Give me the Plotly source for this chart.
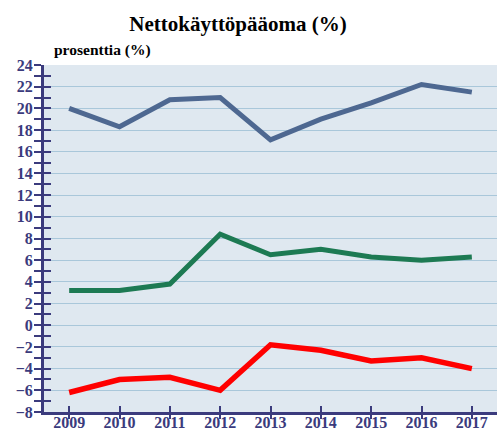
import plotly.graph_objects as go

years = ["2009", "2010", "2011", "2012", "2013", "2014", "2015", "2016", "2017"]
blue_vals = [20.0, 18.3, 20.8, 21.0, 17.1, 19.0, 20.5, 22.2, 21.5]
green_vals = [3.2, 3.2, 3.8, 8.4, 6.5, 7.0, 6.3, 6.0, 6.3]
red_vals = [-6.2, -5.0, -4.8, -6.0, -1.8, -2.3, -3.3, -3.0, -4.0]

title_text = "Nettokäyttöpääoma (%)"
unit_text = "prosenttia (%)"

AXIS = "#3b3b7d"
FONT = "Liberation Serif, Times New Roman, serif"

fig = go.Figure()
for vals, col, w in [(blue_vals, "#4e6891", 5), (green_vals, "#1d7a53", 5), (red_vals, "#ff0000", 5.5)]:
    fig.add_trace(go.Scatter(x=years, y=vals, mode="lines",
                             line=dict(color=col, width=w), hoverinfo="skip",
                             showlegend=False))
# invisible trace on overlay axes for crossing ticks
fig.add_trace(go.Scatter(x=years, y=blue_vals, xaxis="x2", yaxis="y2", mode="lines",
                         line=dict(width=0), opacity=0, showlegend=False, hoverinfo="skip"))

fig.update_layout(
    width=499, height=430,
    margin=dict(l=44, r=2, t=65, b=18),
    paper_bgcolor="white",
    plot_bgcolor="#dfe8f0",
    font=dict(family=FONT, color=AXIS),
    title=dict(text=title_text, x=0.477, xref="container", xanchor="center",
               y=0.945, yref="container", yanchor="middle",
               font=dict(family=FONT, size=21, color="black", weight="bold")),
    xaxis=dict(type="category", range=[-0.5, 8.5], showline=True, linecolor=AXIS,
               linewidth=3, ticks="inside", ticklen=6, tickwidth=2, tickcolor=AXIS,
               showgrid=False, zeroline=False, automargin=False, ticklabelstandoff=-6,
               tickfont=dict(family=FONT, size=16, color=AXIS, weight="bold")),
    yaxis=dict(range=[-8, 24], dtick=2, tick0=0, showline=True, linecolor=AXIS,
               linewidth=3, ticks="outside", ticklen=7, tickwidth=2, tickcolor=AXIS,
               showgrid=True, gridcolor="#a9c7da", gridwidth=1.3, zeroline=False,
               automargin=False, ticklabelstandoff=-2,
               minor=dict(dtick=1, tick0=0, ticks="outside", ticklen=7, tickwidth=2,
                          tickcolor=AXIS, showgrid=False),
               tickfont=dict(family=FONT, size=16, color=AXIS, weight="bold")),
    xaxis2=dict(type="category", range=[-0.5, 8.5], overlaying="x", anchor="y2",
                showline=False, ticks="outside", ticklen=6, tickwidth=2, tickcolor=AXIS,
                showticklabels=False, showgrid=False, zeroline=False, automargin=False),
    yaxis2=dict(range=[-8, 24], dtick=1, tick0=0, overlaying="y", anchor="x2",
                showline=False, ticks="inside", ticklen=7, tickwidth=2, tickcolor=AXIS,
                showticklabels=False, showgrid=False, zeroline=False, automargin=False),
    annotations=[dict(text=unit_text, xref="paper", yref="paper", x=0.018, y=1,
                      xanchor="left", yanchor="bottom", yshift=4, showarrow=False,
                      font=dict(family=FONT, size=15.5, color="black", weight="bold"))],
)

fig.write_html("out.html", config={"displayModeBar": False},
               post_script="document.body.style.margin='0';document.body.style.padding='0';")
